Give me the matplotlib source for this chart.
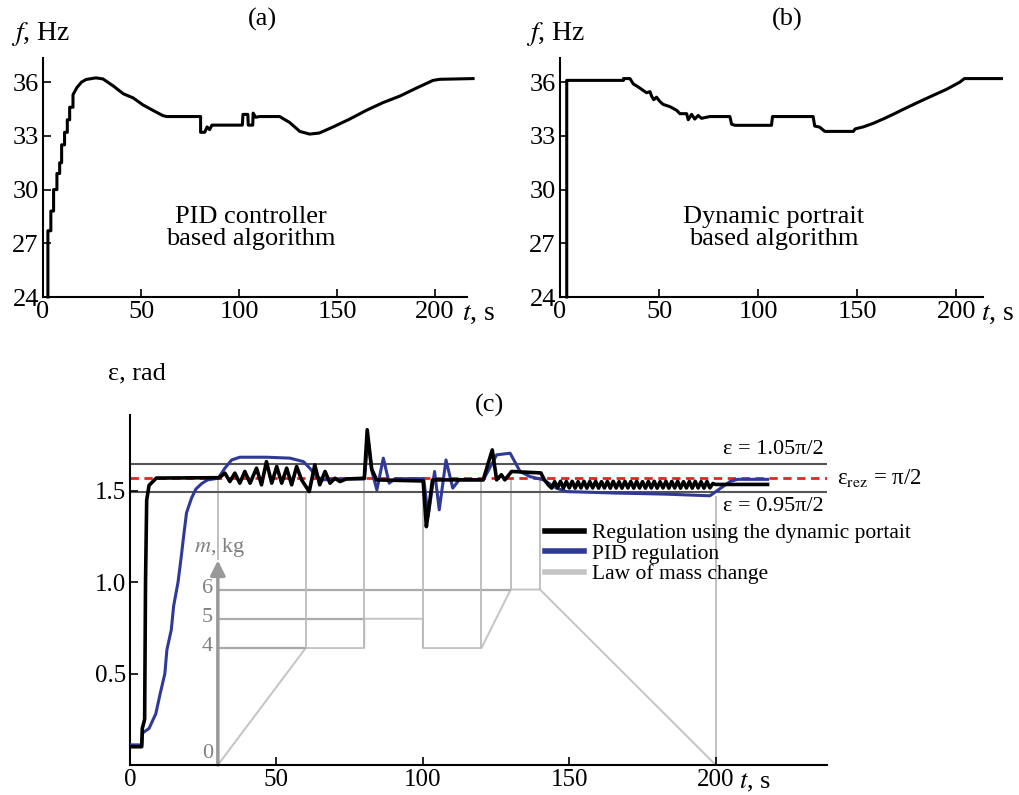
import numpy as np
import matplotlib
matplotlib.use("Agg")
import matplotlib.pyplot as plt
from matplotlib.lines import Line2D

plt.rcParams['font.family'] = ['Liberation Serif', 'DejaVu Serif']
plt.rcParams['mathtext.fontset'] = 'stix'

# (a) frequency, PID controller
t_a = [2.5, 2.5, 4, 4, 5.4, 5.4, 7.1, 7.1, 8.5, 8.5, 9.5, 9.5, 11, 11, 12.4,
       12.4, 13.6, 13.6, 15.3, 15.3, 17.3, 19.6, 22, 27, 30.6, 35.7, 41, 46, 51, 56,
       61, 63, 80.4, 80.4, 82.5, 83.7, 85, 86.2, 101.7, 102, 104.5, 104.7, 107, 107.2, 108.5,
       110.5, 120.7, 125.8, 131, 136, 141, 148, 156.5, 165, 173.5, 182, 190.5, 199, 202.4, 219.4]
f_a = [24, 27.7, 27.7, 28.8, 28.8, 30, 30, 30.9, 30.9, 31.5, 31.5, 32.5, 32.5, 33.2, 33.2,
       33.9, 33.9, 34.6, 34.6, 35.3, 35.7, 36.0, 36.15, 36.24, 36.18, 35.8, 35.35, 35.12, 34.73, 34.43,
       34.14, 34.08, 34.08, 33.2, 33.2, 33.5, 33.35, 33.6, 33.6, 34.2, 34.2, 33.6, 33.6, 34.27, 34.04,
       34.08, 34.08, 33.75, 33.25, 33.1, 33.16, 33.5, 33.94, 34.43, 34.86, 35.22, 35.67, 36.1, 36.16, 36.2]

# (b) frequency, dynamic portrait
t_b = [3.4, 3.4, 32, 32, 35.3, 37, 38.5, 40.3, 41.8, 43.7, 45.4, 46.2, 47.3, 48.7, 50.4,
       52, 55.5, 58.8, 60.5, 63.9, 64.7, 66.4, 68, 69.7, 71.4, 73.9, 75.6, 85.7, 86.6, 88.3,
       106.7, 107.2, 127.7, 128.5, 131, 133.6, 148, 148.9, 153, 158, 163, 168, 174.8, 181.5, 188,
       195, 201.7, 204, 222.7]
f_b = [24, 36.1, 36.1, 36.2, 36.2, 35.9, 35.8, 35.67, 35.55, 35.41, 35.47, 35.22, 35.02, 35.16, 34.92,
       34.76, 34.63, 34.43, 34.24, 34.24, 33.9, 34.2, 33.94, 34.14, 33.98, 34.04, 34.08, 34.08, 33.65, 33.59,
       33.59, 34.08, 34.08, 33.55, 33.49, 33.25, 33.25, 33.39, 33.5, 33.7, 33.94, 34.2, 34.57, 34.92, 35.25,
       35.6, 36.0, 36.2, 36.2]

# (c) angle, dynamic portrait regulation
t_dp = [0, 4, 4.2, 5, 5.3, 5.7, 6.5, 9, 30.5, 32.4, 34.1, 35.8, 37.5, 39.2, 41.0,
        43.2, 44.9, 46.6, 48.4, 50.1, 51.8, 53.5, 55.2, 56.9, 58.6, 61.2, 63.1, 64.8, 66.6, 68.3,
        70.0, 71.7, 73.9, 80, 81, 82.5, 84.2, 100.1, 101.2, 102, 103.3, 120.6, 123.7, 125.2, 126.8,
        128, 130.3, 140.3, 141.5, 143,
        144, 145, 146, 147, 148, 149, 150, 151, 152, 153, 154, 155, 156, 157, 158, 159, 160, 161,
        162, 163, 164, 165, 166, 167, 168, 169, 170, 171, 172, 173, 174, 175, 176, 177, 178, 179,
        180, 181, 182, 183, 184, 185, 186, 187, 188, 189, 190, 191, 192, 193, 194, 195, 196, 197,
        198, 199, 200, 217.7]
e_dp = [0.10, 0.10, 0.20, 0.25, 1.0, 1.45, 1.53, 1.57, 1.572, 1.597, 1.551, 1.597, 1.542, 1.606, 1.542,
        1.624, 1.533, 1.660, 1.542, 1.633, 1.542, 1.624, 1.533, 1.633, 1.560, 1.496, 1.642, 1.533, 1.606, 1.542,
        1.569, 1.551, 1.565, 1.569, 1.834, 1.62, 1.56, 1.554, 1.304, 1.40, 1.56, 1.56, 1.724, 1.56, 1.588,
        1.56, 1.606, 1.598, 1.56, 1.53,
        1.515, 1.550, 1.517, 1.552, 1.515, 1.551, 1.516, 1.552, 1.515, 1.550, 1.516, 1.552, 1.515, 1.551,
        1.516, 1.552, 1.515, 1.550, 1.516, 1.551, 1.515, 1.552, 1.516, 1.550, 1.515, 1.552, 1.516, 1.551,
        1.515, 1.552, 1.516, 1.550, 1.515, 1.551, 1.516, 1.552, 1.515, 1.550, 1.516, 1.552, 1.515, 1.551,
        1.516, 1.552, 1.515, 1.550, 1.516, 1.551, 1.515, 1.552, 1.516, 1.550, 1.515, 1.551, 1.516, 1.540,
        1.535, 1.535]

# (c) angle, PID regulation
t_pid = [0, 4.0, 4.3, 6.5, 8.8, 10.3, 11.9, 12.6, 14.1, 14.9, 16.4, 17.5, 18.3, 19.3, 21,
         22.5, 24.5, 26.5, 30.1, 32.4, 34.7, 37.5, 46.6, 54.6, 59.2, 61.4, 63.7, 66, 70.5, 80,
         81.3, 82.7, 84.3, 86.5, 88.5, 90.5, 100.3, 101.8, 104, 105.6, 107.9, 110.2, 112.4, 120.6, 122,
         125.2, 129.8, 133.2, 136.6, 141.2, 145.7, 149.1, 165.7, 183, 198, 205, 207.4, 217.7]
e_pid = [0.11, 0.11, 0.175, 0.20, 0.28, 0.39, 0.50, 0.63, 0.74, 0.87, 1.0, 1.14, 1.25, 1.38, 1.46,
         1.51, 1.54, 1.56, 1.569, 1.624, 1.669, 1.684, 1.684, 1.679, 1.66, 1.624, 1.578, 1.56, 1.565, 1.565,
         1.78, 1.60, 1.505, 1.679, 1.542, 1.566, 1.567, 1.359, 1.606, 1.396, 1.669, 1.515, 1.56, 1.56, 1.60,
         1.697, 1.706, 1.606, 1.578, 1.56, 1.514, 1.496, 1.488, 1.482, 1.473, 1.552, 1.563, 1.563]

# law of mass change, kg
t_mass = [30, 60, 80, 80, 100, 100, 120, 130, 140, 200]
m_mass = [0, 4, 4, 5, 5, 4, 4, 6, 6, 0]
mass_ticks = [0, 4, 5, 6]
guide_end = [60, 80, 130]          # where the law first reaches 4, 5, 6 kg
switch_t = [30, 60, 80, 100, 120, 130, 140, 200]
switch_low = [7, 4, 4, 4, 4, 6, 6, 0]
switch_top = [1.57, 1.50, 1.57, 1.55, 1.56, 1.57, 1.56, 1.47]

eps_hi = 1.05 * np.pi / 2
eps_rez = np.pi / 2
eps_lo = 0.95 * np.pi / 2

W, H = 1019, 795
fig = plt.figure(figsize=(W / 100, H / 100), dpi=100)


def style(ax, size=18):
    for s in ['top', 'right']:
        ax.spines[s].set_visible(False)
    for s in ['left', 'bottom']:
        ax.spines[s].set_linewidth(1.5)
    ax.tick_params(direction='in', length=6, width=1.2, labelsize=size, pad=3)


ax_a = fig.add_axes([43 / W, 1 - 297 / H, 424 / W, 239 / H])
ax_b = fig.add_axes([560 / W, 1 - 297 / H, 423 / W, 239 / H])
for ax, t, f in [(ax_a, t_a, f_a), (ax_b, t_b, f_b)]:
    style(ax, 19)
    ax.set_ylim(24, 37.35)
    ax.set_xticks([0, 50, 100, 150, 200])
    ax.set_yticks([24, 27, 30, 33, 36])
    ax.plot(t, f, color='black', lw=2.2, clip_on=False)
ax_a.set_xlim(0, 216.3)
ax_b.set_xlim(0, 213.4)

ax_a.text(0.49, 0.29, 'PID controller\nbased algorithm', transform=ax_a.transAxes,
          ha='center', va='center', fontsize=19, linespacing=1.0)
ax_b.text(0.506, 0.29, 'Dynamic portrait\nbased algorithm', transform=ax_b.transAxes,
          ha='center', va='center', fontsize=19, linespacing=1.0)

fig.text(262 / W, 1 - 19 / H, '(a)', ha='center', va='center', fontsize=19)
fig.text(787 / W, 1 - 19 / H, '(b)', ha='center', va='center', fontsize=19)
fig.text(11 / W, 1 - 34 / H, '$f$, Hz', ha='left', va='center', fontsize=20)
fig.text(526 / W, 1 - 34 / H, '$f$, Hz', ha='left', va='center', fontsize=20)
fig.text(462 / W, 1 - 314 / H, '$t$, s', ha='left', va='center', fontsize=20)
fig.text(981 / W, 1 - 314 / H, '$t$, s', ha='left', va='center', fontsize=20)

# (c)
ax_c = fig.add_axes([130 / W, 1 - 765 / H, 697 / W, 350 / H])
style(ax_c, 18)
ax_c.set_xlim(0, 238)
ax_c.set_ylim(0, 1.915)
ax_c.set_xticks([0, 50, 100, 150, 200])
ax_c.set_yticks([0.5, 1.0, 1.5])
ax_c.set_yticklabels(['0.5', '1.0', '1.5'])

ax_c.axhline(eps_hi, color='#555555', lw=1.5, zorder=1)
ax_c.axhline(eps_lo, color='#555555', lw=1.5, zorder=1)
ax_c.axhline(eps_rez, color='#e0281e', lw=2, ls=(0, (3, 2)), zorder=1)
ax_c.plot(t_pid, e_pid, color='#2f3a97', lw=2.2, zorder=3)
ax_c.plot(t_dp, e_dp, color='black', lw=2.6, zorder=4)

# mass law on a hidden twin axis
kg_per_eps = 1 / 0.160
ax_m = ax_c.twinx()
ax_m.set_ylim(0, 1.915 * kg_per_eps)
ax_m.axis('off')
ax_c.set_zorder(ax_m.get_zorder() + 1)
ax_c.patch.set_visible(False)

ax_m.plot(t_mass, m_mass, color='#c4c4c4', lw=1.4)
ax_m.hlines([4, 5, 6], 30, guide_end, color='#aaaaaa', lw=1.6)
ax_m.vlines(switch_t, switch_low, np.array(switch_top) * kg_per_eps, color='#bbbbbb', lw=1.3)
ax_m.annotate('', xy=(30, 7), xytext=(30, 0),
              arrowprops=dict(arrowstyle='-|>', color='#999999', lw=2.5, mutation_scale=22,
                              shrinkA=0, shrinkB=0))
for m in mass_ticks:
    ax_m.text(28.3, m + (0.4 if m == 0 else 0.05), str(m), ha='right', va='center',
              fontsize=16, color='#808080')
ax_m.text(30.5, 1.19 * kg_per_eps, '$m$, kg', ha='center', va='center', fontsize=16, color='#808080')

# labels of reference lines
ax_c.text(237, eps_hi + 0.025, 'ε = 1.05π/2', ha='right', va='bottom', fontsize=16)
ax_c.text(237, eps_lo - 0.025, 'ε = 0.95π/2', ha='right', va='top', fontsize=16)
fig.text(837 / W, 1 - 478 / H, 'ε$_\\mathrm{rez}$ = π/2', ha='left', va='center', fontsize=16.5)

handles = [Line2D([], [], color='black', lw=4),
           Line2D([], [], color='#2f3a97', lw=4),
           Line2D([], [], color='#c4c4c4', lw=4)]
labels = ['Regulation using the dynamic portait', 'PID regulation', 'Law of mass change']
fig.legend(handles, labels, loc='upper left', bbox_to_anchor=(545 / W, 1 - 523 / H),
           frameon=False, fontsize=15.5, handlelength=1.8, handletextpad=0.4,
           labelspacing=0.02, borderpad=0, borderaxespad=0)

fig.text(490 / W, 1 - 405 / H, '(c)', ha='center', va='center', fontsize=19)
fig.text(108 / W, 1 - 373 / H, 'ε, rad', ha='left', va='center', fontsize=19)
fig.text(739 / W, 1 - 783 / H, '$t$, s', ha='left', va='center', fontsize=19)

fig.savefig('out.png', dpi=100)
